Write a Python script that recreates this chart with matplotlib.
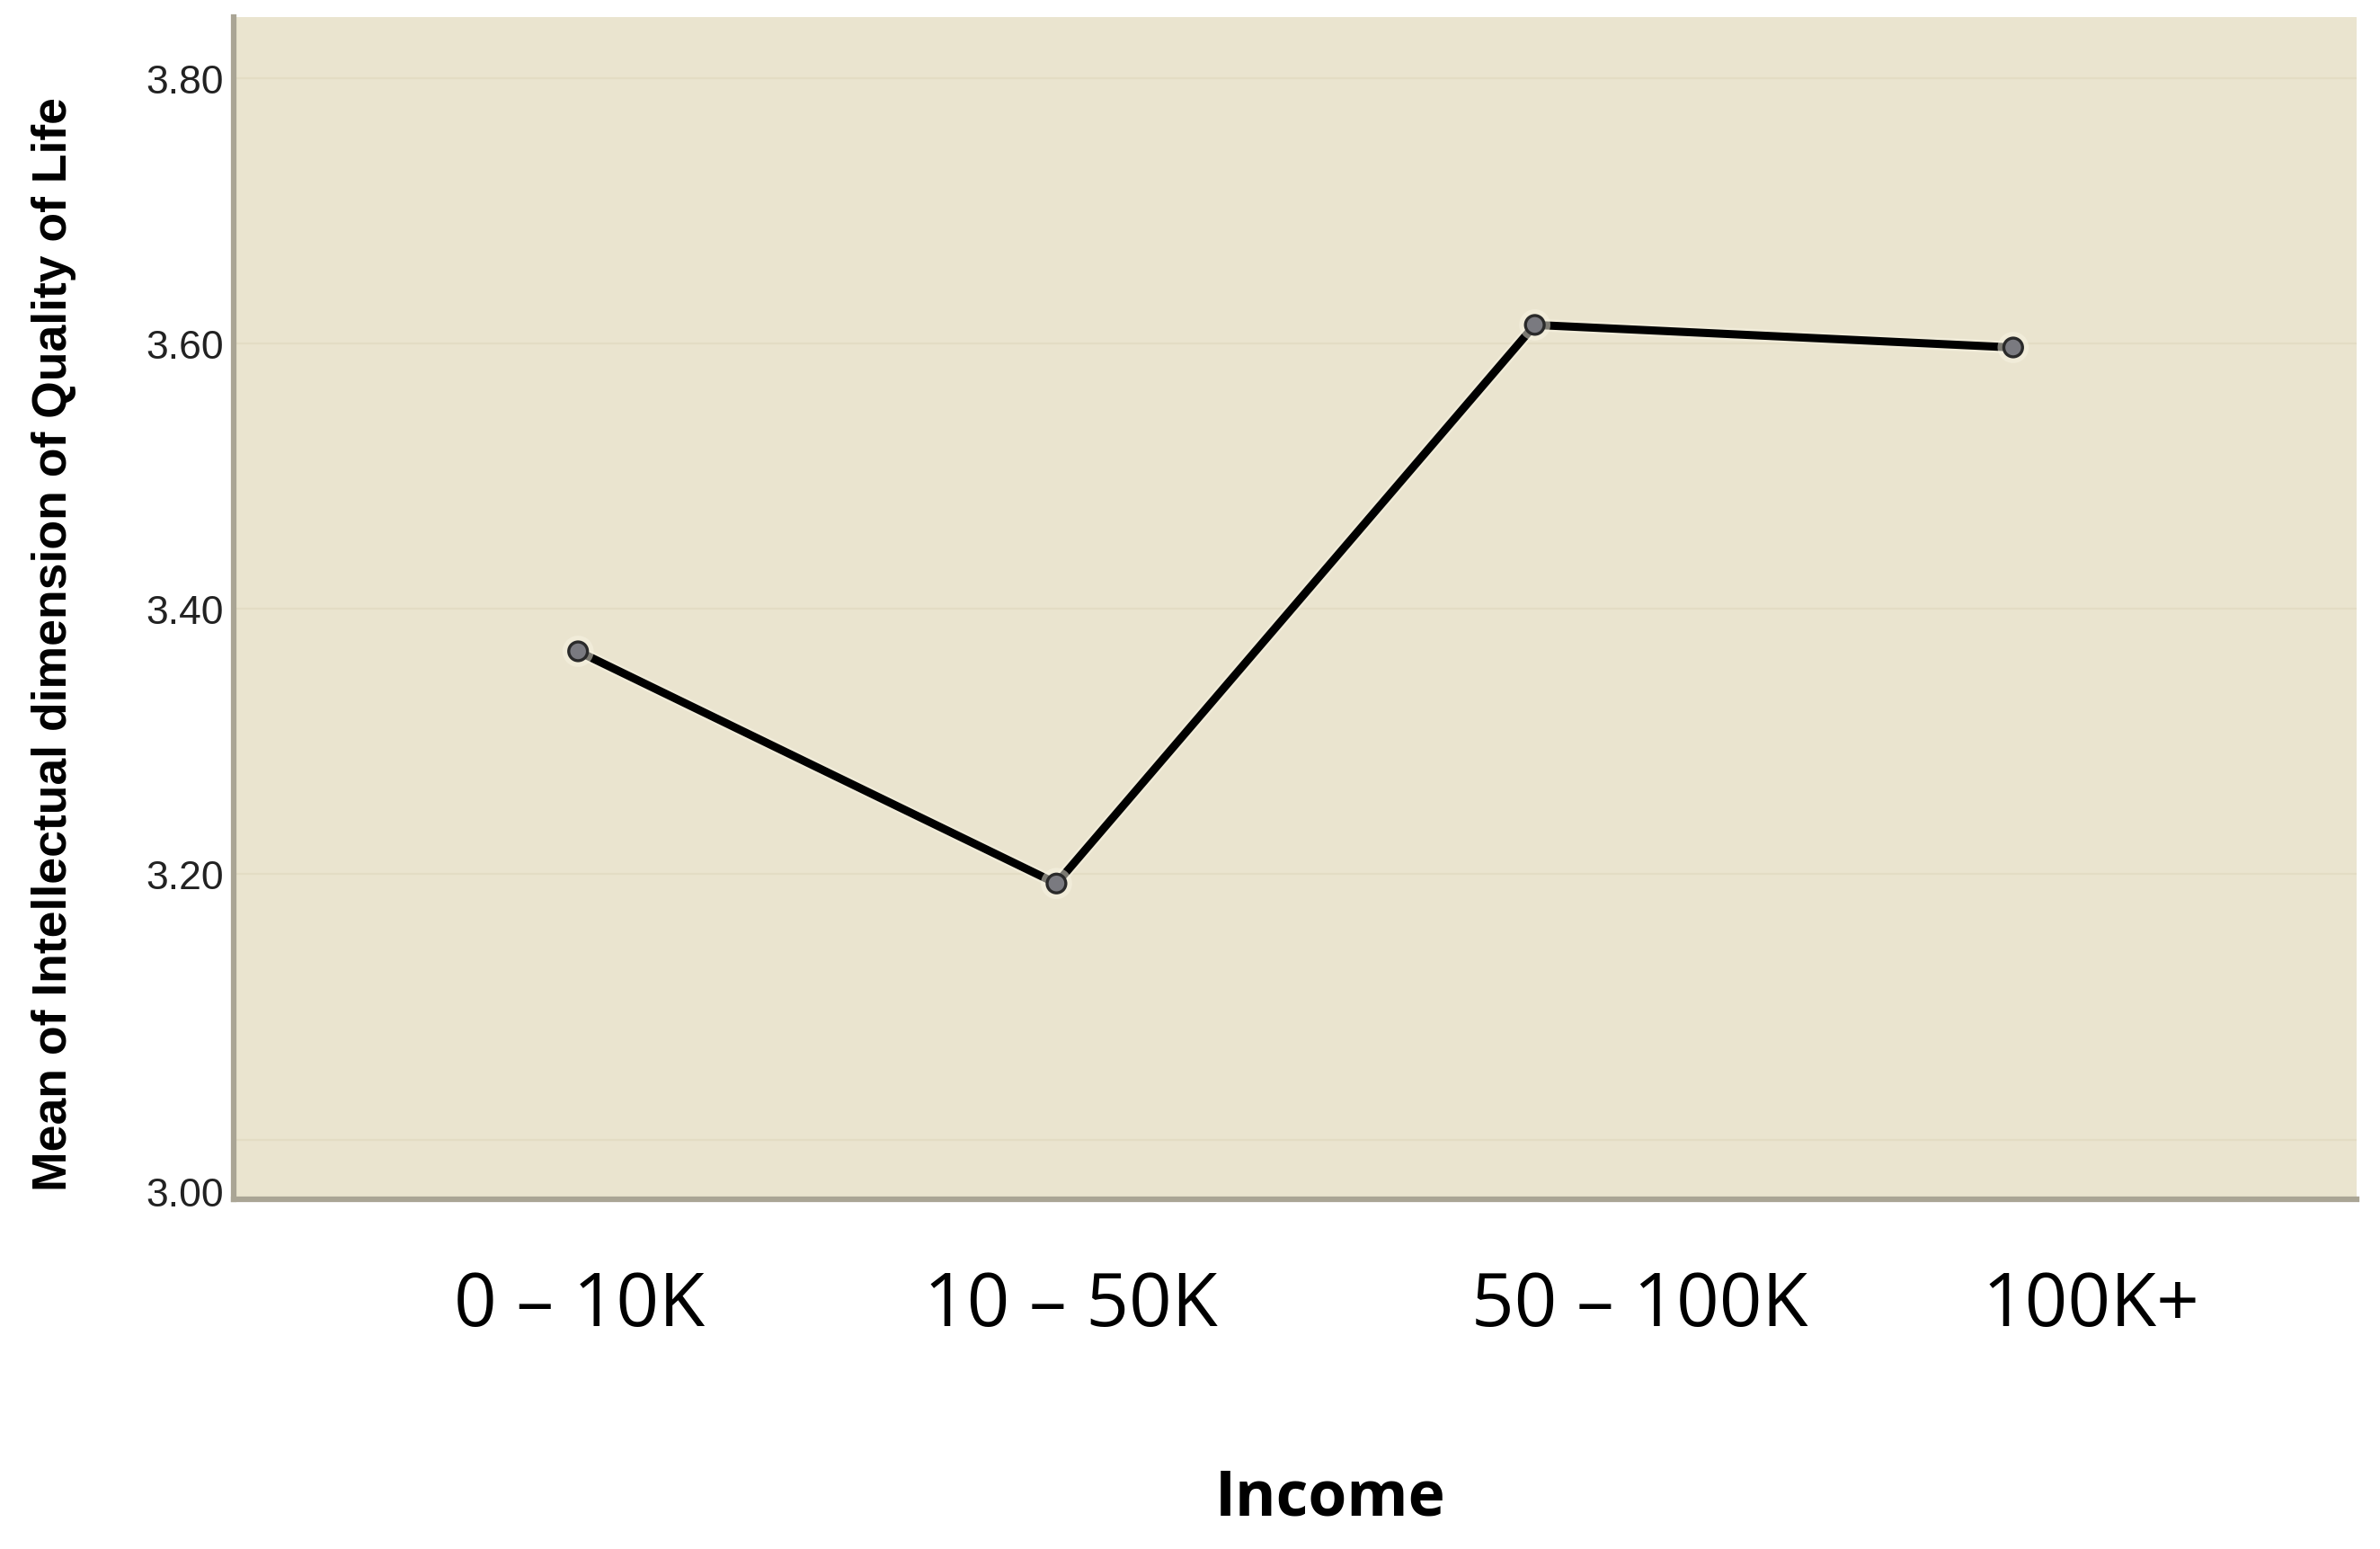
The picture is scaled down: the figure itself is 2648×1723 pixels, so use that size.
import matplotlib
matplotlib.use("Agg")
import matplotlib.pyplot as plt
from matplotlib.transforms import ScaledTranslation
import matplotlib.patheffects as pe

# ---- data ----
categories = ["0 \u2013 10K", "10 \u2013 50K", "50 \u2013 100K", "100K+"]
means = [3.368, 3.193, 3.614, 3.597]
y_ticks = [3.00, 3.20, 3.40, 3.60, 3.80]
y_tick_labels = ["3.00", "3.20", "3.40", "3.60", "3.80"]
x_label = "Income"
y_label = "Mean of Intellectual dimension of Quality of Life"

# ---- style ----
BG = "#eae4cf"
GRID = "#e3dcc4"
SPINE = "#aaa595"

fig = plt.figure(figsize=(26.48, 17.24), dpi=100)
ax = fig.add_axes([260 / 2648, 1 - 1335 / 1724, (2622 - 260) / 2648, (1335 - 20) / 1724])
ax.set_facecolor(BG)

xs = list(range(len(categories)))
ax.plot(xs, means, color="black", lw=6.5, solid_capstyle="round", zorder=3,
        marker="o", markersize=15, markerfacecolor="#7a7a80",
        markeredgecolor="#2a2a2a", markeredgewidth=2.4,
        path_effects=[pe.Stroke(linewidth=10, foreground="#f8f4e4", alpha=0.5), pe.Normal()])

ax.set_xlim(-0.72, 3.718)
ax.set_ylim(2.955, 3.846)

ax.set_yticks(y_ticks)
ax.set_yticklabels(y_tick_labels, fontsize=32, family="Liberation Sans", color="#222222")
ax.grid(axis="y", color=GRID, lw=1.6, zorder=0)
ax.set_axisbelow(True)

ax.set_xticks(xs)
ax.set_xticklabels(categories, fontsize=60, family="Open Sans", color="black")

ax.tick_params(axis="y", length=0, pad=8)
ax.tick_params(axis="x", length=0, pad=56)

for s in ["top", "right"]:
    ax.spines[s].set_visible(False)
for s in ["left", "bottom"]:
    ax.spines[s].set_color(SPINE)
    ax.spines[s].set_linewidth(4.5)

# label placement tweaks (as in the reference image)
x_label_shift_px = [1, 16, 117, 87]
for lab, dx in zip(ax.get_xticklabels(), x_label_shift_px):
    lab.set_transform(lab.get_transform() + ScaledTranslation(dx / 100, 0, fig.dpi_scale_trans))
ylabs = ax.get_yticklabels()
ylabs[0].set_transform(ylabs[0].get_transform() + ScaledTranslation(0, -57 / 100, fig.dpi_scale_trans))

ax.set_xlabel(x_label, fontsize=50, family="Open Sans", fontweight="bold", va="center")
ax.xaxis.set_label_coords(0.5165, -0.2525)
ax.set_ylabel(y_label, fontsize=38.5, family="Liberation Sans", fontweight="bold", va="center")
ax.yaxis.set_label_coords(-0.0845, 0.4707)

fig.savefig("out.png", dpi=100, facecolor="white")
